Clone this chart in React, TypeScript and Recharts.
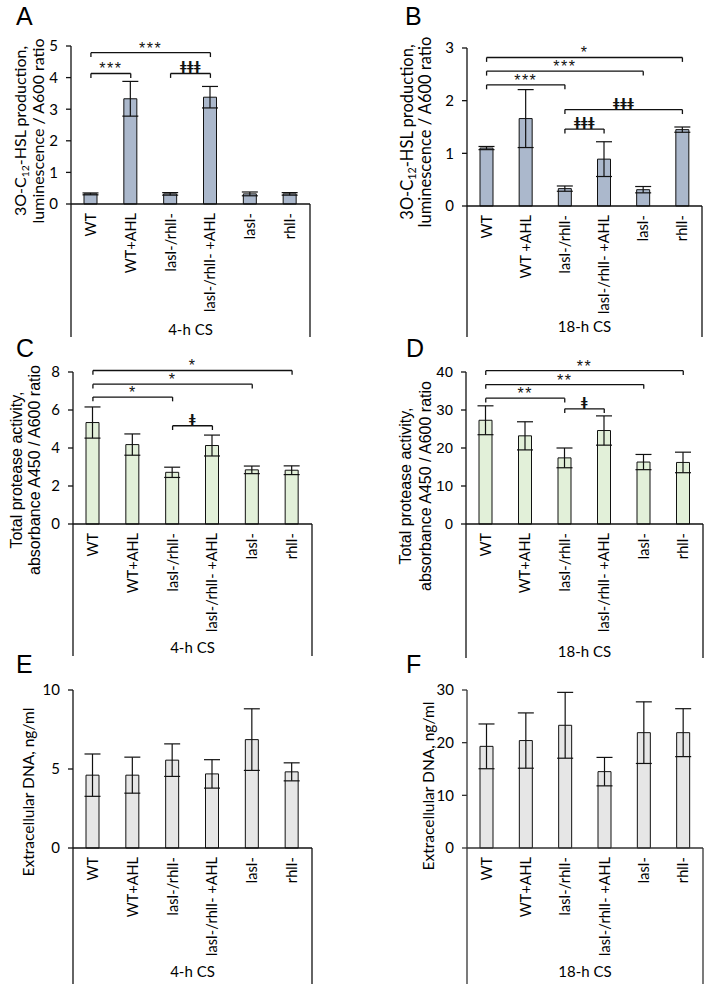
import React from 'react';
import { BarChart, Bar, XAxis, YAxis, ErrorBar, ReferenceLine } from 'recharts';

// ---------- categories ----------
const catsA = ['WT', 'WT+AHL', 'lasI-/rhlI-', 'lasI-/rhlI- +AHL', 'lasI-', 'rhlI-'];
const catsB = ['WT', 'WT +AHL', 'lasI-/rhlI-', 'lasI-/rhlI- +AHL', 'lasI-', 'rhlI-'];
const catsC = ['WT', 'WT+AHL', 'lasI-/rhlI-', 'lasI-/rhlI- +AHL', 'lasI-', 'rhlI-'];
const catsD = ['WT', 'WT+AHL', 'lasI-/rhlI-', 'lasI-/rhlI- +AHL', 'lasI-', 'rhlI-'];
const catsE = ['WT', 'WT+AHL', 'lasI-/rhlI-', 'lasI-/rhlI- +AHL', 'lasI-', 'rhlI-'];
const catsF = ['WT', 'WT+AHL', 'lasI-/rhlI-', 'lasI-/rhlI- +AHL', 'lasI-', 'rhlI-'];

// ---------- values & errors ----------
const valuesA = [0.32, 3.33, 0.32, 3.38, 0.32, 0.32];
const errorsA = [0.03, 0.55, 0.04, 0.34, 0.06, 0.04];
const valuesB = [1.1, 1.66, 0.33, 0.89, 0.31, 1.45];
const errorsB = [0.03, 0.55, 0.05, 0.33, 0.06, 0.05];
const valuesC = [5.34, 4.18, 2.72, 4.13, 2.85, 2.83];
const errorsC = [0.82, 0.56, 0.27, 0.55, 0.2, 0.23];
const valuesD = [27.3, 23.2, 17.4, 24.6, 16.3, 16.2];
const errorsD = [3.8, 3.7, 2.6, 3.85, 2.0, 2.7];
const valuesE = [4.61, 4.61, 5.56, 4.69, 6.86, 4.82];
const errorsE = [1.34, 1.14, 1.03, 0.9, 1.95, 0.57];
const valuesF = [19.3, 20.4, 23.3, 14.5, 21.9, 21.9];
const errorsF = [4.25, 5.25, 6.25, 2.7, 5.85, 4.55];

// ---------- y ticks ----------
const ticksA = [0, 1, 2, 3, 4, 5];
const ticksB = [0, 1, 2, 3];
const ticksC = [0, 2, 4, 6, 8];
const ticksD = [0, 10, 20, 30, 40];
const ticksE = [0, 5, 10];
const ticksF = [0, 10, 20, 30];

// ---------- significance brackets ----------
type Bracket = { from: number; to: number; y: number; label: string };
const bracketsA: Bracket[] = [
  { from: 0, to: 3, y: 4.79, label: '***' },
  { from: 0, to: 1, y: 4.13, label: '***' },
  { from: 2, to: 3, y: 4.13, label: 'ǂǂǂ' },
];
const bracketsB: Bracket[] = [
  { from: 0, to: 5, y: 2.82, label: '*' },
  { from: 0, to: 4, y: 2.56, label: '***' },
  { from: 0, to: 2, y: 2.3, label: '***' },
  { from: 2, to: 5, y: 1.83, label: 'ǂǂǂ' },
  { from: 2, to: 3, y: 1.46, label: 'ǂǂǂ' },
];
const bracketsC: Bracket[] = [
  { from: 0, to: 5, y: 8.08, label: '*' },
  { from: 0, to: 4, y: 7.36, label: '*' },
  { from: 0, to: 2, y: 6.68, label: '*' },
  { from: 2, to: 3, y: 5.17, label: 'ǂ' },
];
const bracketsD: Bracket[] = [
  { from: 0, to: 5, y: 40.35, label: '**' },
  { from: 0, to: 4, y: 36.7, label: '**' },
  { from: 0, to: 2, y: 33.1, label: '**' },
  { from: 2, to: 3, y: 30.3, label: 'ǂ' },
];

// ---------- titles ----------
const xTitleA = '4-h CS';
const xTitleB = '18-h CS';

const LATO = 'Lato, "Open Sans", sans-serif';
const ARIAL = '"Liberation Sans", Arial, sans-serif';

type Cfg = {
  cats: string[];
  values: number[];
  errors: number[];
  ticks: number[];
  brackets: Bracket[];
  xTitle: string;
  fill: string;
  axisColor: string;
  tickFont: string;
  left: number;
  top: number;
  width: number;
  height: number;
  plotLeft: number;
  plotRight: number;
  plotTop: number;
  plotBottom: number;
  boxBottom: number;
  xTitleBaseline: number;
};

const panels: Cfg[] = [
  {
    cats: catsA, values: valuesA, errors: errorsA, ticks: ticksA, brackets: bracketsA, xTitle: xTitleA,
    fill: '#abb8cc', axisColor: '#111', tickFont: LATO,
    left: 0, top: 0, width: 354, height: 338,
    plotLeft: 71, plotRight: 310, plotTop: 46, plotBottom: 204, boxBottom: 337, xTitleBaseline: 335,
  },
  {
    cats: catsB, values: valuesB, errors: errorsB, ticks: ticksB, brackets: bracketsB, xTitle: xTitleB,
    fill: '#abb8cc', axisColor: '#111', tickFont: LATO,
    left: 354, top: 0, width: 354, height: 338,
    plotLeft: 467, plotRight: 702, plotTop: 48, plotBottom: 206, boxBottom: 337, xTitleBaseline: 332,
  },
  {
    cats: catsC, values: valuesC, errors: errorsC, ticks: ticksC, brackets: bracketsC, xTitle: xTitleA,
    fill: '#e2f0d9', axisColor: '#111', tickFont: LATO,
    left: 0, top: 337, width: 354, height: 321,
    plotLeft: 73, plotRight: 312, plotTop: 372, plotBottom: 524, boxBottom: 656, xTitleBaseline: 653,
  },
  {
    cats: catsD, values: valuesD, errors: errorsD, ticks: ticksD, brackets: bracketsD, xTitle: xTitleB,
    fill: '#e2f0d9', axisColor: '#111', tickFont: ARIAL,
    left: 354, top: 337, width: 354, height: 326,
    plotLeft: 466, plotRight: 703, plotTop: 372, plotBottom: 524, boxBottom: 658, xTitleBaseline: 657,
  },
  {
    cats: catsE, values: valuesE, errors: errorsE, ticks: ticksE, brackets: [], xTitle: xTitleA,
    fill: '#e6e6e6', axisColor: '#111', tickFont: LATO,
    left: 0, top: 656, width: 354, height: 328,
    plotLeft: 73, plotRight: 312, plotTop: 690, plotBottom: 848, boxBottom: 984, xTitleBaseline: 977,
  },
  {
    cats: catsF, values: valuesF, errors: errorsF, ticks: ticksF, brackets: [], xTitle: xTitleB,
    fill: '#e6e6e6', axisColor: '#333', tickFont: LATO,
    left: 354, top: 656, width: 354, height: 328,
    plotLeft: 467, plotRight: 703, plotTop: 690, plotBottom: 848, boxBottom: 984, xTitleBaseline: 977,
  },
];

function CatTick(props: any) {
  const { x, y, payload, index, cfg } = props;
  const n = cfg.cats.length;
  const half = (cfg.plotRight - cfg.plotLeft) / (2 * n);
  const boxH = cfg.boxBottom - cfg.plotBottom;
  const gap = 9;
  return (
    <g>
      <text
        x={x - gap}
        y={y}
        dy="0.35em"
        transform={`rotate(-90 ${x} ${y})`}
        textAnchor="end"
        fontFamily={LATO}
        fontSize={14.5}
        fill="#000"
      >
        {payload.value}
      </text>
      {index === 0 && (
        <line x1={x - half} x2={x - half} y1={y} y2={y + boxH} stroke={cfg.axisColor} strokeWidth={1.3} />
      )}
      {index === n - 1 && (
        <line x1={x + half} x2={x + half} y1={y} y2={y + boxH} stroke={cfg.axisColor} strokeWidth={1.3} />
      )}
    </g>
  );
}

function Panel({ cfg }: { cfg: Cfg }) {
  const data = cfg.cats.map((c, i) => ({ name: c, v: cfg.values[i], e: cfg.errors[i] }));
  const yw = cfg.plotLeft - cfg.left;
  const margin = {
    top: cfg.plotTop - cfg.top,
    right: cfg.left + cfg.width - cfg.plotRight,
    bottom: cfg.top + cfg.height - cfg.boxBottom,
    left: 0,
  };
  const xh = cfg.boxBottom - cfg.plotBottom;
  const ymax = cfg.ticks[cfg.ticks.length - 1];
  const leg = ymax * 0.028;
  const stroke = cfg.axisColor;
  const lines: React.ReactNode[] = [];
  cfg.brackets.forEach((b, i) => {
    const x1 = cfg.cats[b.from];
    const x2 = cfg.cats[b.to];
    const isStar = b.label.indexOf('*') >= 0;
    lines.push(
      <ReferenceLine
        key={`h${i}`}
        segment={[{ x: x1, y: b.y }, { x: x2, y: b.y }]}
        stroke="#111"
        strokeWidth={1.3}
        ifOverflow="visible"
        label={{
          value: b.label,
          position: 'top',
          offset: isStar ? -1 : 3,
          fill: '#111',
          stroke: 'none',
          fontSize: isStar ? 16 : 12,
          fontWeight: isStar ? 'normal' : 'bold',
          fontFamily: isStar ? ARIAL : '"DejaVu Sans", sans-serif',
          letterSpacing: isStar ? 1.5 : 0.5,
        }}
      />,
      <ReferenceLine
        key={`l${i}`}
        segment={[{ x: x1, y: b.y }, { x: x1, y: b.y - leg }]}
        stroke="#111"
        strokeWidth={1.3}
        ifOverflow="visible"
      />,
      <ReferenceLine
        key={`r${i}`}
        segment={[{ x: x2, y: b.y }, { x: x2, y: b.y - leg }]}
        stroke="#111"
        strokeWidth={1.3}
        ifOverflow="visible"
      />
    );
  });
  return (
    <div style={{ position: 'absolute', left: cfg.left, top: cfg.top }}>
      <BarChart width={cfg.width} height={cfg.height} data={data} margin={margin} barCategoryGap={0}>
        <XAxis
          dataKey="name"
          type="category"
          height={xh}
          interval={0}
          tickLine={false}
          tickSize={0}
          tickMargin={0}
          axisLine={{ stroke, strokeWidth: 1.3 }}
          tick={(p: any) => <CatTick {...p} cfg={cfg} />}
          label={{
            value: cfg.xTitle,
            position: 'insideBottom',
            offset: cfg.boxBottom - cfg.xTitleBaseline,
            fill: '#000',
            fontSize: 15,
            fontFamily: LATO,
          }}
        />
        <YAxis
          type="number"
          domain={[0, ymax]}
          ticks={cfg.ticks}
          interval={0}
          width={yw}
          tickSize={5}
          tickMargin={8}
          axisLine={{ stroke, strokeWidth: 1.3 }}
          tickLine={{ stroke, strokeWidth: 1.3 }}
          tick={{ fill: '#000', fontSize: 15, fontFamily: cfg.tickFont }}
        />
        <Bar dataKey="v" fill={cfg.fill} stroke="#111" strokeWidth={1} barSize={13} isAnimationActive={false}>
          <ErrorBar dataKey="e" width={8} stroke="#111" strokeWidth={1.2} direction="y" />
        </Bar>
        {lines}
      </BarChart>
    </div>
  );
}

// ---------- overlay texts (panel letters, y titles) ----------
const letters = [
  { t: 'A', x: 16, y: 25 },
  { t: 'B', x: 405, y: 25 },
  { t: 'C', x: 16, y: 357 },
  { t: 'D', x: 406, y: 357 },
  { t: 'E', x: 16, y: 673 },
  { t: 'F', x: 406, y: 673 },
];

function YTitleHSL({ x1, x2, cy, size }: { x1: number; x2: number; cy: number; size: number }) {
  return (
    <g fontFamily={LATO} fontSize={size} fill="#000">
      <text x={x1} y={cy} transform={`rotate(-90 ${x1} ${cy})`} textAnchor="middle" dy="0.35em">
        3O-C
        <tspan fontSize={size * 0.65} dy={3}>12</tspan>
        <tspan dy={-3}>-HSL production,</tspan>
      </text>
      <text x={x2} y={cy} transform={`rotate(-90 ${x2} ${cy})`} textAnchor="middle" dy="0.35em">
        luminescence / A600 ratio
      </text>
    </g>
  );
}

function YTitle2({ x1, x2, cy, l1, l2, font, size }: any) {
  return (
    <g fontFamily={font} fontSize={size} fill="#000">
      <text x={x1} y={cy} transform={`rotate(-90 ${x1} ${cy})`} textAnchor="middle" dy="0.35em">{l1}</text>
      {l2 && (
        <text x={x2} y={cy} transform={`rotate(-90 ${x2} ${cy})`} textAnchor="middle" dy="0.35em">{l2}</text>
      )}
    </g>
  );
}

export default function App() {
  return (
    <div style={{ position: 'absolute', left: 0, top: 0, width: 708, height: 984, background: '#fff', overflow: 'hidden' }}>
      {panels.map((p, i) => (
        <Panel key={i} cfg={p} />
      ))}
      <svg width={708} height={984} style={{ position: 'absolute', left: 0, top: 0, pointerEvents: 'none' }}>
        {letters.map((l) => (
          <text key={l.t} x={l.x} y={l.y} fontFamily={ARIAL} fontSize={25} fill="#000">{l.t}</text>
        ))}
        <YTitleHSL x1={20} x2={38} cy={131} size={16} />
        <YTitleHSL x1={407} x2={425} cy={132} size={16.5} />
        <YTitle2 x1={16} x2={34} cy={470} l1="Total protease activity," l2="absorbance A450 / A600 ratio" font={ARIAL} size={16} />
        <YTitle2 x1={405} x2={425} cy={486} l1="Total protease activity," l2="absorbance A450 / A600 ratio" font={ARIAL} size={16} />
        <YTitle2 x1={29} cy={792} l1="Extracellular DNA, ng/ml" font={LATO} size={15.5} />
        <YTitle2 x1={429} cy={786} l1="Extracellular DNA, ng/ml" font={LATO} size={15.5} />
      </svg>
    </div>
  );
}
